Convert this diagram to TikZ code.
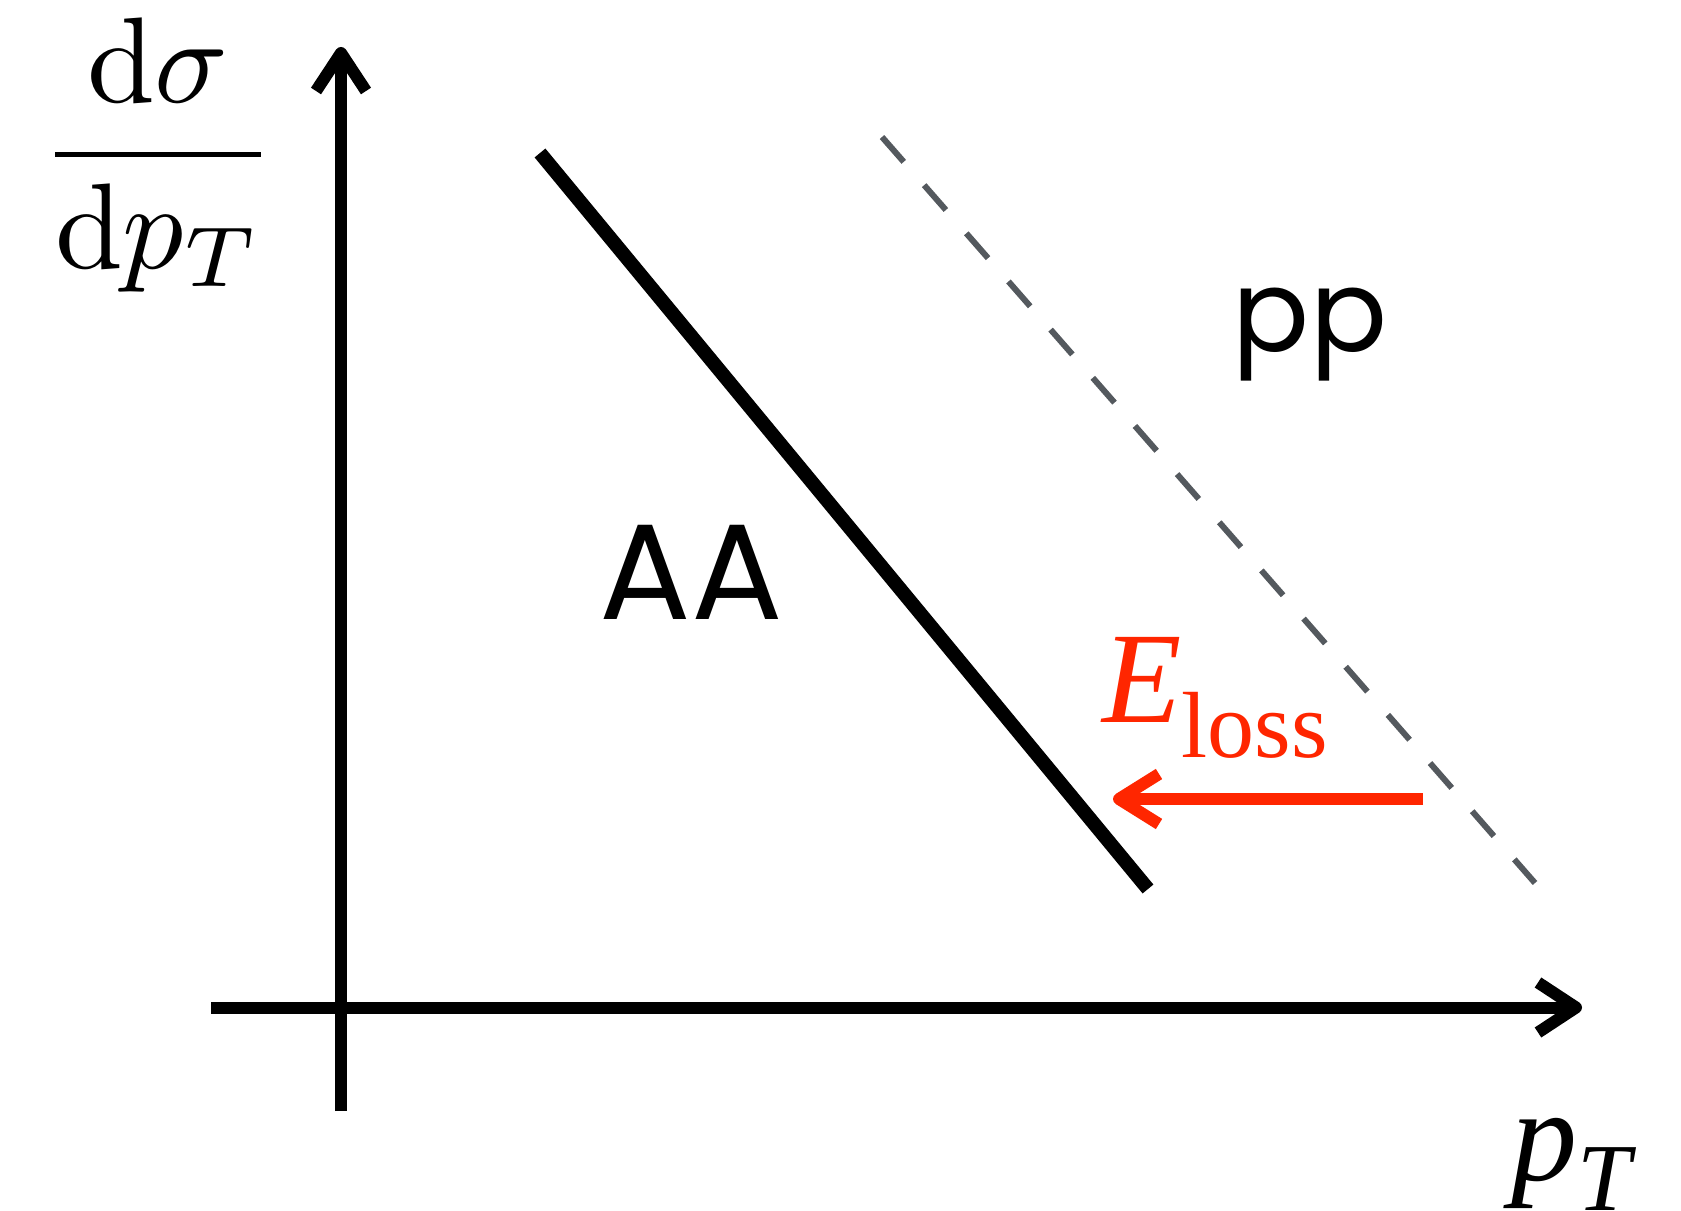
\documentclass[tikz,border=0pt]{standalone}
\usepackage{graphicx}
\usepackage{fontspec}
\newfontfamily\popfont{Poppins}
\newfontfamily\libserif{Liberation Serif}
\usetikzlibrary{arrows.meta}
\definecolor{lossred}{RGB}{255,38,0}
\definecolor{dashgrey}{RGB}{84,89,94}
\tikzset{
  axisline/.style={line width=6bp, black, -{Straight Barb[length=19bp,width=25bp,line join=round]}},
  aaline/.style={line width=7bp, black},
  ppline/.style={line width=3bp, dashgrey, dash pattern=on 16.5bp off 15.5bp},
  lossarrow/.style={line width=6bp, lossred, -{Straight Barb[length=20bp,width=25bp,line join=round]}},
  lbl/.style={inner sep=0pt, outer sep=0pt}
}
\begin{document}
\begin{tikzpicture}[x=0.5bp,y=-0.5bp]
\useasboundingbox (0,0) rectangle (1681,1211);
% axes
\coordinate (yb) at (341,1111);
\coordinate (yt) at (341,47);
\coordinate (xl) at (211,1007.5);
\coordinate (xr) at (1582,1007.5);
\draw[axisline] (yb) -- (yt);
\draw[axisline] (xl) -- (xr);
% curves
\coordinate (aa1) at (540,153);
\coordinate (aa2) at (1148,889);
\draw[aaline] (aa1) -- (aa2);
\coordinate (pp1) at (882,137);
\coordinate (pp2) at (1535,883);
\draw[ppline] (pp1) -- (pp2);
% energy loss arrow
\coordinate (ra) at (1423,799);
\coordinate (rb) at (1113,799);
\draw[lossarrow] (ra) -- (rb);
% labels
\node[lbl, anchor=base] (pp) at (1310,352) {\fontsize{57bp}{64bp}\selectfont\popfont pp};
\node[lbl, anchor=base] (AA) at (691,620) {\fontsize{68bp}{76bp}\selectfont\popfont AA};
\node[lbl, anchor=base west, text=lossred] (eloss) at (1102,723)
  {\fontsize{65bp}{70bp}\selectfont\libserif\itshape E\raisebox{-17bp}{\fontsize{47bp}{50bp}\selectfont\upshape loss}};
\node[lbl, anchor=center] (ylab) at (158,155)
  {\scalebox{6.12}{$\displaystyle\frac{\mathrm{d}\sigma}{\mathrm{d}p_T}$}};
\node[lbl, anchor=base west] (xlab) at (1511,1180)
  {\fontsize{66bp}{72bp}\selectfont\libserif\itshape p\raisebox{-15bp}{\fontsize{48bp}{52bp}\selectfont T}};
\end{tikzpicture}
\end{document}
